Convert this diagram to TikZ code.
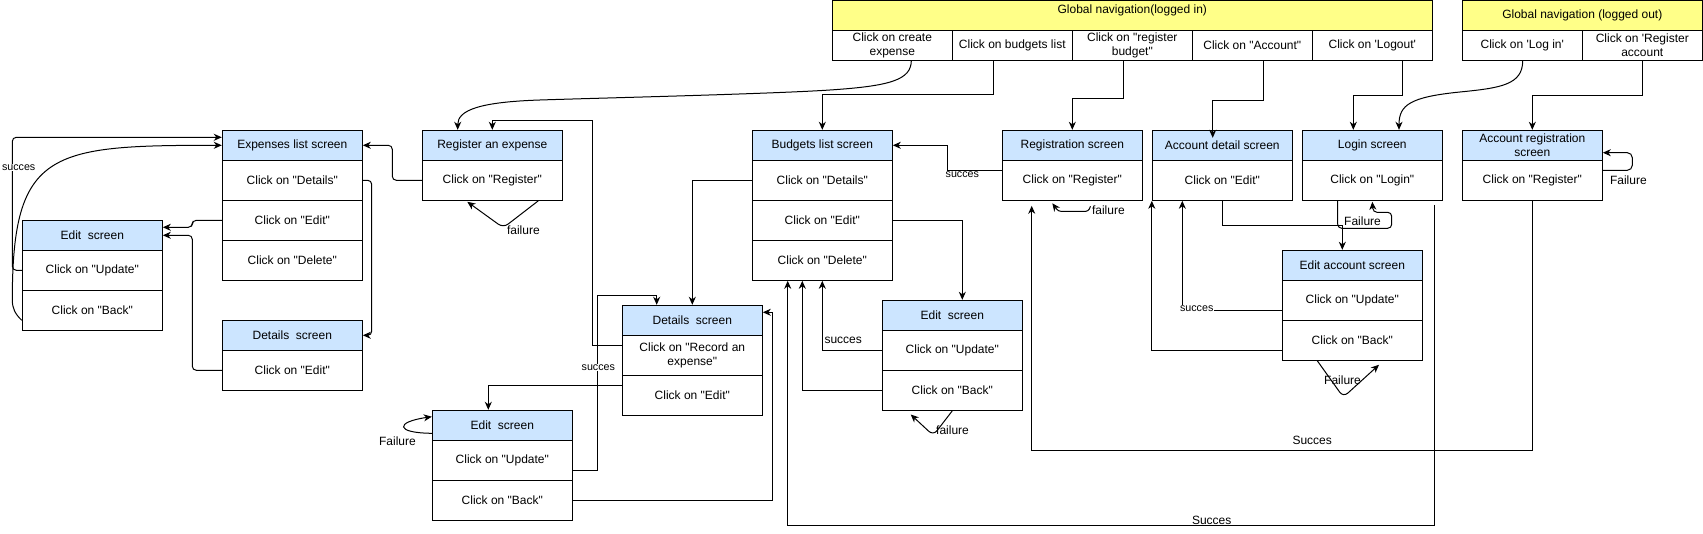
\documentclass[tikz,border=0pt]{standalone}
\usepackage{fontspec}
\setmainfont{Liberation Sans}[Ligatures=TeXOff]
\usetikzlibrary{arrows.meta,calc}
\definecolor{hblue}{HTML}{CCE5FF}
\definecolor{gyel}{HTML}{FFFF88}
\begin{document}
\begin{tikzpicture}[x=1pt,y=-1pt, line width=1pt,
  every node/.style={font=\fontsize{12}{14}\selectfont, text=black},
  hdr/.style={draw, fill=hblue, minimum width=140pt, minimum height=30pt, inner sep=1pt, align=center},
  rowc/.style={draw, fill=white, minimum width=140pt, minimum height=40pt, inner sep=1pt, align=center},
  gcell/.style={draw, fill=white, minimum width=120pt, minimum height=30pt, inner sep=1pt, align=center, font=\fontsize{12}{13.4}\selectfont},
  arr/.style={-{Stealth[length=8pt,width=7pt,inset=2.5pt]}},
  rc/.style={rounded corners=4pt},
  lbl/.style={font=\fontsize{12}{14}\selectfont, inner sep=0.5pt},
  slbl/.style={font=\fontsize{10.7}{12}\selectfont, fill=white, inner sep=0.5pt},
]
\useasboundingbox (0,0) rectangle (1703,534);

% Global navigation (logged in)
\node[draw, fill=gyel, minimum width=600pt, minimum height=30pt, inner sep=0pt,
  label={[anchor=north, inner sep=0pt, yshift=-4.5pt]north:Global navigation(logged in)}] (gli) at (1132.3,15.3) {};
\node[gcell] (gc1) at (892.3,45.3) {Click on create\\expense};
\node[gcell] (gc2) at (1012.3,45.3) {Click on budgets list};
\node[gcell] (gc3) at (1132.3,45.3) {Click on "register\\budget"};
\node[gcell] (gc4) at (1252.3,45.3) {Click on "Account"};
\node[gcell] (gc5) at (1372.3,45.3) {Click on 'Logout'};

% Global navigation (logged out)
\node[draw, fill=gyel, minimum width=240pt, minimum height=30pt, inner sep=0pt] (glo) at (1582.3,15.3) {Global navigation (logged out)};
\node[gcell] (go1) at (1522.3,45.3) {Click on 'Log in'};
\node[gcell] (go2) at (1642.3,45.3) {Click on 'Register\\account};

% Expenses list
\node[hdr] (el) at (292.3,145.3) {Expenses list screen};
\node[rowc] (el1) at (292.3,180.3) {Click on "Details"};
\node[rowc] (el2) at (292.3,220.3) {Click on "Edit"};
\node[rowc] (el3) at (292.3,260.3) {Click on "Delete"};

% Edit screen (left)
\node[hdr] (ed) at (92.3,235.3) {Edit\ \ screen};
\node[rowc] (ed1) at (92.3,270.3) {Click on "Update"};
\node[rowc] (ed2) at (92.3,310.3) {Click on "Back"};

% Details screen (left)
\node[hdr] (dl) at (292.3,335.3) {Details\ \ screen};
\node[rowc] (dl1) at (292.3,370.3) {Click on "Edit"};

% Register an expense
\node[hdr] (re) at (492.3,145.3) {Register an expense};
\node[rowc] (re1) at (492.3,180.3) {Click on "Register"};

% Details screen (middle)
\node[hdr] (dm) at (692.3,320.3) {Details\ \ screen};
\node[rowc] (dm1) at (692.3,355.3) {Click on "Record an\\expense"};
\node[rowc] (dm2) at (692.3,395.3) {Click on "Edit"};

% Edit screen (middle)
\node[hdr] (em) at (502.3,425.3) {Edit\ \ screen};
\node[rowc] (em1) at (502.3,460.3) {Click on "Update"};
\node[rowc] (em2) at (502.3,500.3) {Click on "Back"};

% Budgets list
\node[hdr] (bl) at (822.3,145.3) {Budgets list screen};
\node[rowc] (bl1) at (822.3,180.3) {Click on "Details"};
\node[rowc] (bl2) at (822.3,220.3) {Click on "Edit"};
\node[rowc] (bl3) at (822.3,260.3) {Click on "Delete"};

% Edit screen (budgets)
\node[hdr] (eb) at (952.3,315.3) {Edit\ \ screen};
\node[rowc] (eb1) at (952.3,350.3) {Click on "Update"};
\node[rowc] (eb2) at (952.3,390.3) {Click on "Back"};

% Registration screen
\node[hdr] (rs) at (1072.3,145.3) {Registration screen};
\node[rowc] (rs1) at (1072.3,180.3) {Click on "Register"};

% Account detail
\node[hdr] (ad) at (1222.3,145.3) {Account detail screen};
\node[rowc] (ad1) at (1222.3,180.3) {Click on "Edit"};

% Login
\node[hdr] (lg) at (1372.3,145.3) {Login screen};
\node[rowc] (lg1) at (1372.3,180.3) {Click on "Login"};

% Edit account
\node[hdr] (ea) at (1352.3,265.3) {Edit account screen};
\node[rowc] (ea1) at (1352.3,300.3) {Click on "Update"};
\node[rowc] (ea2) at (1352.3,340.3) {Click on "Back"};

% Account registration
\node[hdr, font=\fontsize{12}{14.4}\selectfont] (ar) at (1532.3,145.3) {Account registration\\screen};
\node[rowc] (ar1) at (1532.3,180.3) {Click on "Register"};

% ---------- connectors ----------
% left part
\draw[arr, rc] (ed1.west) -| (12.3,137.3) -- ($(el.west)+(0,-8)$);
\node[slbl] at (18.7,167.3) {succes};
\draw[arr] ($(ed2.west)+(0,10)$) .. controls (15,314) and (12.3,308) .. (12.3,300)
   .. controls (12.3,150) and (50,145.3) .. (el.west);
\draw[arr, rc] (el2.west) -| (192.3,227.3) -- ($(ed.east)+(0,-8)$);
\draw[arr, rc] (dl1.west) -| (192.3,235.3) -- (ed.east);
\draw[arr, rc] (el1.east) -| (371.7,335.3) -- (dl.east);
\draw[arr, rc] (re1.west) -| (392.3,145.3) -- (el.east);
\draw[arr, rounded corners=6pt] ($(re1.south)+(46,0)$) -- ($(re1.south)+(11,27)$) -- ($(re1.south)+(-25,1)$);
\node[lbl, anchor=west] at (506,230.7) {failure};

% details / edit middle
\draw[arr] ($(dm1.west)+(0,-10)$) -- (592.3,345.3) -- (592.3,120.3) -| (re.north);
\draw[arr] ($(dm2.west)+(0,-10)$) -| ($(em.north)+(-14,0)$);
\draw[arr] ($(em1.east)+(0,10)$) -- (597.3,470.3) -- (597.3,295.3) -| ($(dm.north)+(-35.6,0)$);
\node[slbl] at (598.3,367.3) {succes};
\draw[arr] (em2.east) -| (772.3,312.3) -- ($(dm.east)+(0,-8)$);
\draw[arr] (bl1.west) -| (dm.north);
\draw[arr] ($(em.west)+(0,8)$) .. controls (395,433) and (395,422) .. ($(em.west)+(0,-8.6)$);
\node[lbl] at (397.5,441) {Failure};

% global navigation (logged in)
\draw[arr] ($(gc1.south)+(19,0)$) .. controls (911,80) and (890,86) .. (830,90)
   .. controls (770,94) and (600,98) .. (540,100)
   .. controls (480,102) and (457.7,110) .. ($(re.north)+(-34.6,0)$);
\draw[arr] ($(gc2.south)+(-19,0)$) -- (993.3,95) -| (bl.north);
\draw[arr] ($(gc3.south)+(-9,0)$) -- (1123.3,99) -| (rs.north);
\draw[arr] ($(gc4.south)+(11,0)$) -- (1263.3,100.3) -| ($(ad.north)+(-9.6,8)$);
\draw[arr] ($(gc5.south)+(30,0)$) -- (1402.3,95.7) -| ($(lg.north)+(-19,0)$);

% global navigation (logged out)
\draw[arr] ($(go1.south)+(0.4,0)$) .. controls (1522.7,85) and (1500,88) .. (1460,92)
   .. controls (1410,97) and (1399,105) .. ($(lg.north)+(26.7,0)$);
\draw[arr] (go2.south) -- (1642.3,95.7) -| (ar.north);
\draw[arr, rounded corners=5pt] ($(ar1.east)+(0,-10)$) -- (1632.3,170.3) -- (1632.3,152.7) -- ($(ar.east)+(0,7.4)$);
\node[lbl, anchor=west] at (1609,180.7) {Failure};

% registration / budgets
\draw[arr] ($(rs1.west)+(0,-10)$) -- (947.7,170.3) -- (947.7,145.3) -- (bl.east);
\node[slbl] at (962.3,174.3) {succes};
\draw[arr, rounded corners=2.5pt] ($(rs1.south)+(18.2,5.5)$) -- ($(rs1.south)+(16,10.5)$) -- ($(rs1.south)+(-14,10.5)$) -- ($(rs1.south)+(-20,2.5)$);
\node[lbl, anchor=west] at (1091,210.5) {failure};
\draw[arr] (bl2.east) -| ($(eb.north)+(10,0)$);
\draw[arr] (eb1.west) -| (bl3.south);
\node[lbl, anchor=west] at (823.5,340.7) {succes};
\draw[arr] (eb2.west) -| ($(bl3.south)+(-20,0)$);
\draw[arr, rounded corners=6pt] (eb2.south) -- ($(eb2.south)+(-19,24.7)$) -- ($(eb2.south)+(-41.6,3.7)$);
\node[lbl] at (952.5,430.5) {failure};

% long success paths
\draw[arr] (ar1.south) -- (1532.3,450.3) -| ($(rs1.south)+(-40.6,5)$);
\node[lbl] at (1312.2,440.7) {Succes};
\draw[arr] ($(lg1.south)+(62,4)$) -- (1434.3,525.3) -| ($(bl3.south)+(-34.6,0)$);
\node[lbl] at (1211.7,520) {Succes};

% account
\draw[arr] (ad1.south) -- (1222.3,225.3) -| ($(ea.north)+(-10,0)$);
\draw[arr, rounded corners=4pt] ($(lg1.south)+(-34.6,0)$) -- (1337.7,228.3) -- (1391.7,228.3) -- (1391.7,212.3) -- (1373,212.3) -- ($(lg1.south)+(0,1)$);
\node[lbl] at (1362.5,221) {Failure};
\draw[arr] ($(ea1.west)+(0,10.4)$) -| ($(ad1.south)+(-40,0)$);
\node[slbl] at (1196.7,308.3) {succes};
\draw[arr] ($(ea2.west)+(0,10)$) -| (ad1.south west);
\draw[arr, rounded corners=6pt] ($(ea2.south)+(-35,0)$) -- ($(ea2.south)+(-9,36.4)$) -- ($(ea2.south)+(26.7,4)$);
\node[lbl] at (1342.5,380.7) {Failure};
\end{tikzpicture}
\end{document}
